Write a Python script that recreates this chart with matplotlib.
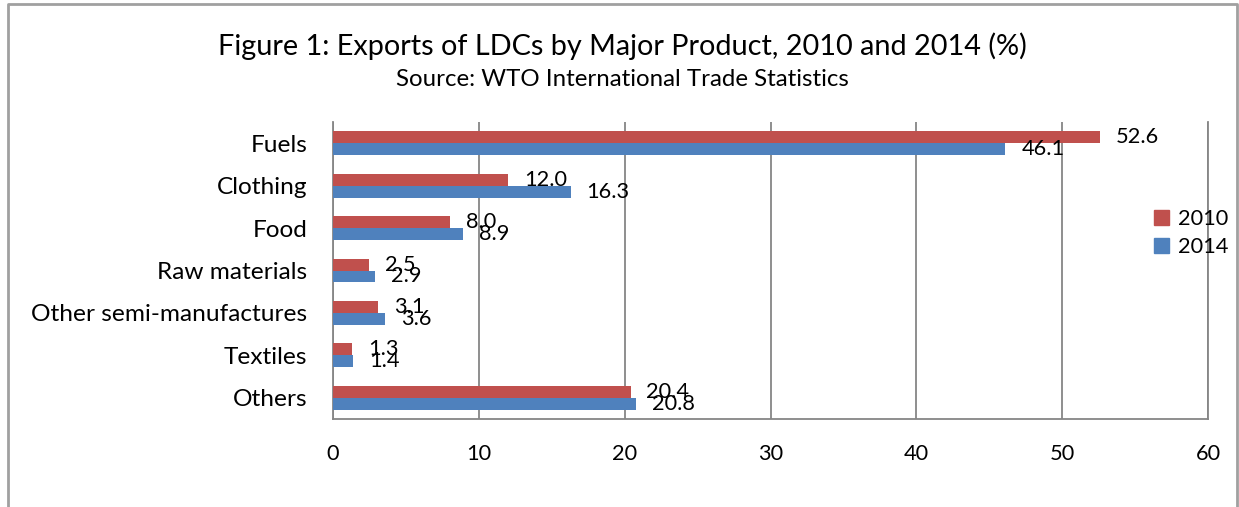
import numpy as np
import matplotlib
matplotlib.use("Agg")
from matplotlib import pyplot as plt
from matplotlib.lines import Line2D
from matplotlib.patches import Patch

plt.rcParams['font.family'] = ['Lato', 'DejaVu Sans']

categories = ['Fuels', 'Clothing', 'Food', 'Raw materials',
              'Other semi-manufactures', 'Textiles', 'Others']
exports_2010 = [52.6, 12.0, 8.0, 2.5, 3.1, 1.3, 20.4]
exports_2014 = [46.1, 16.3, 8.9, 2.9, 3.6, 1.4, 20.8]
x_ticks = [0, 10, 20, 30, 40, 50, 60]

RED = '#C0504D'
BLUE = '#4F81BD'
GRID = '#868686'
NUM_FS = 15.7
CAT_FS = 17.6

W, H = 1239, 507
fig = plt.figure(figsize=(W / 100, H / 100), dpi=100)
ax = fig.add_axes([333 / W, 88 / H, 875 / W, 297 / H])

y = np.arange(len(categories))
bh = 0.28
ax.barh(y - bh / 2, exports_2010, height=bh, color=RED, label='2010', zorder=3)
ax.barh(y + bh / 2, exports_2014, height=bh, color=BLUE, label='2014', zorder=3)

# value labels, Excel style (right of each bar end)
for i in range(len(categories)):
    ax.annotate(f'{exports_2010[i]:.1f}', (exports_2010[i], y[i] - bh / 2),
                xytext=(11.5, 0), textcoords='offset points',
                va='center', ha='left', fontsize=NUM_FS, zorder=4)
    ax.annotate(f'{exports_2014[i]:.1f}', (exports_2014[i], y[i] + bh / 2),
                xytext=(11.5, 0), textcoords='offset points',
                va='center', ha='left', fontsize=NUM_FS, zorder=4)

ax.set_xlim(0, 60)
ax.set_ylim(len(categories) - 0.5, -0.5)
ax.set_xticks(x_ticks)
ax.set_yticks(y)
ax.set_yticklabels(categories)
ax.tick_params(axis='x', length=0, pad=18, labelsize=NUM_FS)
ax.tick_params(axis='y', length=0, pad=18.5, labelsize=CAT_FS)
ax.xaxis.grid(True, color=GRID, linewidth=1.3, zorder=0)
ax.spines['top'].set_visible(False)
for s in ['left', 'bottom', 'right']:
    ax.spines[s].set_color(GRID)
    ax.spines[s].set_linewidth(1.3)

handles = [Patch(color=RED, label='2010'), Patch(color=BLUE, label='2014')]
fig.legend(handles=handles, loc='center left', bbox_to_anchor=(1145 / W, 1 - 233 / H),
           frameon=False, fontsize=NUM_FS, handlelength=0.7, handleheight=0.7,
           handletextpad=0.4, labelspacing=0.35, borderaxespad=0)

fig.text(622 / W, 1 - 46 / H, 'Figure 1: Exports of LDCs by Major Product, 2010 and 2014 (%)',
         ha='center', va='center', fontsize=20.8)
fig.text(622 / W, 1 - 79 / H, 'Source: WTO International Trade Statistics',
         ha='center', va='center', fontsize=17.3)

# chart area border (bottom edge is cut off in the original)
bx = [7.5 / W, 7.5 / W, 1236.5 / W, 1236.5 / W]
by = [0, 1 - 3.5 / H, 1 - 3.5 / H, 0]
fig.add_artist(Line2D(bx, by, color='#A0A0A0', linewidth=2))

fig.savefig('out.png', dpi=100)
